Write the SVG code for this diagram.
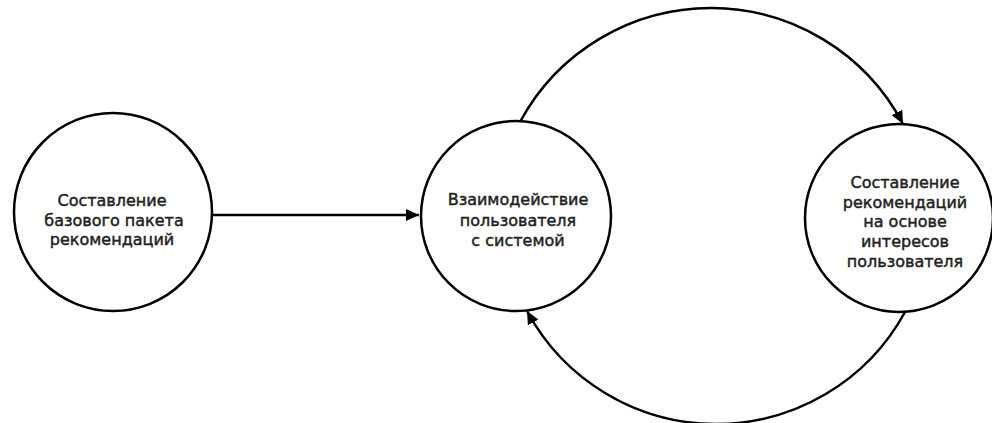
<svg xmlns="http://www.w3.org/2000/svg" width="992" height="423" viewBox="0 0 992 423">
<defs>
<style>
.node{fill:#fff;stroke:#000;stroke-width:2.5}
.lbl{font-family:"DejaVu Sans","Liberation Sans",sans-serif;font-size:16px;fill:#222;stroke:#222;stroke-width:0.45;text-anchor:middle}
.edge{fill:none;stroke:#000;stroke-width:2.5}
</style>
<marker id="ah" markerUnits="userSpaceOnUse" markerWidth="14" markerHeight="12" refX="13" refY="6" orient="auto">
<path d="M0,0 L13,6 L0,12 Z" fill="#000"/>
</marker>
</defs>
<rect width="992" height="423" fill="#fff"/>
<g id="connectors">
<path class="edge" d="M213,215 L419,215" marker-end="url(#ah)"/>
<path class="edge" d="M520,122 A217,217 0 0 1 903,124" marker-end="url(#ah)"/>
<path class="edge" d="M905,312 A215,215 0 0 1 527,311" marker-end="url(#ah)"/>
</g>
<g id="node1">
<circle class="node" cx="113" cy="212" r="99"/>
<text class="lbl" x="112" y="206">Составление</text>
<text class="lbl" x="114" y="226">базового пакета</text>
<text class="lbl" x="112" y="245">рекомендаций</text>
</g>
<g id="node2">
<circle class="node" cx="516" cy="216" r="95"/>
<text class="lbl" x="518" y="205">Взаимодействие</text>
<text class="lbl" x="518" y="226">пользователя</text>
<text class="lbl" x="518" y="246">с системой</text>
</g>
<g id="node3">
<circle class="node" cx="899" cy="218" r="94"/>
<text class="lbl" x="905" y="188">Составление</text>
<text class="lbl" x="905" y="208">рекомендаций</text>
<text class="lbl" x="905" y="227">на основе</text>
<text class="lbl" x="905" y="247">интересов</text>
<text class="lbl" x="905" y="267">пользователя</text>
</g>
</svg>
